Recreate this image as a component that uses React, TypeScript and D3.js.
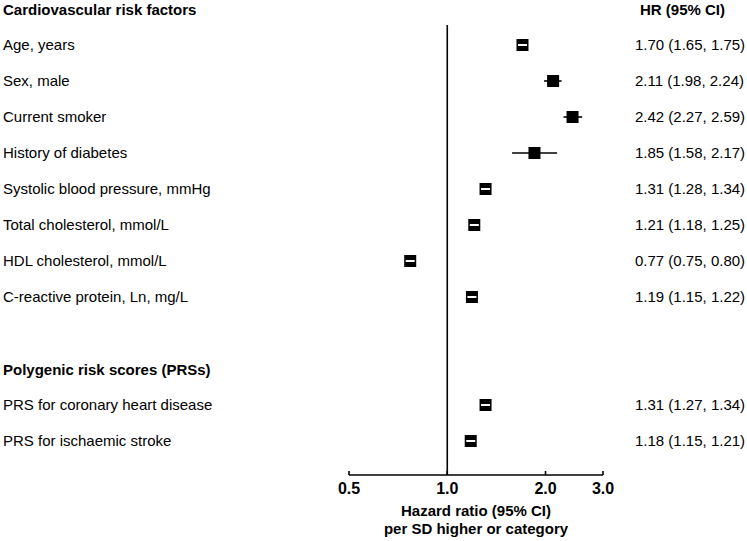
import React from "react";
import * as d3 from "d3";

// section headers
const sectionTitles = ["Cardiovascular risk factors", "Polygenic risk scores (PRSs)"];

// cardiovascular risk factors
const cvdFactors = [
  "Age, years",
  "Sex, male",
  "Current smoker",
  "History of diabetes",
  "Systolic blood pressure, mmHg",
  "Total cholesterol, mmol/L",
  "HDL cholesterol, mmol/L",
  "C-reactive protein, Ln, mg/L",
];
const cvdHR = [1.7, 2.11, 2.42, 1.85, 1.31, 1.21, 0.77, 1.19];
const cvdLo = [1.65, 1.98, 2.27, 1.58, 1.28, 1.18, 0.75, 1.15];
const cvdHi = [1.75, 2.24, 2.59, 2.17, 1.34, 1.25, 0.8, 1.22];

// polygenic risk scores
const prsFactors = ["PRS for coronary heart disease", "PRS for ischaemic stroke"];
const prsHR = [1.31, 1.18];
const prsLo = [1.27, 1.15];
const prsHi = [1.34, 1.21];

const xTicks = [0.5, 1, 2, 3];

const W = 747;
const H = 541;
const FONT = "Arial, 'Liberation Sans', Helvetica, sans-serif";

type Row =
  | { kind: "header"; text: string }
  | { kind: "blank" }
  | { kind: "item"; text: string; hr: number; lo: number; hi: number };

const fmt = d3.format(".2f");

const App: React.FC = () => {
  const rows: Row[] = [
    { kind: "header", text: sectionTitles[0] },
    ...cvdFactors.map((t, i) => ({ kind: "item" as const, text: t, hr: cvdHR[i], lo: cvdLo[i], hi: cvdHi[i] })),
    { kind: "blank" },
    { kind: "header", text: sectionTitles[1] },
    ...prsFactors.map((t, i) => ({ kind: "item" as const, text: t, hr: prsHR[i], lo: prsLo[i], hi: prsHi[i] })),
  ];

  const x = d3.scaleLog().domain([0.5, 3]).range([349, 603]);
  const y = d3
    .scalePoint<number>()
    .domain(d3.range(rows.length))
    .range([9, 441]);

  const axisY = 475;
  const box = 12;

  return (
    <svg
      width={W}
      height={H}
      style={{ position: "absolute", left: 0, top: 0, background: "#fff" }}
      fontFamily={FONT}
    >
      {/* reference line at HR = 1 */}
      <line x1={x(1)} x2={x(1)} y1={25} y2={axisY} stroke="#000" strokeWidth={1.6} />

      {/* column header */}
      <text x={640} y={15} fontSize={15} fontWeight="bold">
        HR (95% CI)
      </text>

      {rows.map((r, i) => {
        const cy = y(i) as number;
        if (r.kind === "blank") return null;
        if (r.kind === "header") {
          return (
            <text key={i} x={3} y={cy + 6} fontSize={15} fontWeight="bold">
              {r.text}
            </text>
          );
        }
        const cx = x(r.hr);
        const x0 = x(r.lo);
        const x1 = x(r.hi);
        const inside = x0 >= cx - box / 2 && x1 <= cx + box / 2;
        return (
          <g key={i}>
            <text x={3} y={cy + 5} fontSize={15}>
              {r.text}
            </text>
            <line x1={x0} x2={x1} y1={cy} y2={cy} stroke="#000" strokeWidth={1.6} />
            <rect x={cx - box / 2} y={cy - box / 2} width={box} height={box} fill="#000" />
            {inside && (
              <line
                x1={cx - box / 2 + 1.5}
                x2={cx + box / 2 - 1.5}
                y1={cy}
                y2={cy}
                stroke="#fff"
                strokeWidth={2}
              />
            )}
            <text x={635} y={cy + 5} fontSize={15}>
              {`${fmt(r.hr)} (${fmt(r.lo)}, ${fmt(r.hi)})`}
            </text>
          </g>
        );
      })}

      {/* x axis */}
      <line x1={x(0.5)} x2={x(3)} y1={axisY} y2={axisY} stroke="#000" strokeWidth={1.6} />
      {xTicks.map((t) => (
        <g key={t}>
          <line x1={x(t)} x2={x(t)} y1={axisY} y2={axisY - 4} stroke="#000" strokeWidth={1.6} />
          <text x={x(t)} y={494} fontSize={16} fontWeight="bold" textAnchor="middle">
            {d3.format(".1f")(t)}
          </text>
        </g>
      ))}
      <text x={476} y={516} fontSize={15} fontWeight="bold" textAnchor="middle">
        Hazard ratio (95% CI)
      </text>
      <text x={476} y={534} fontSize={15} fontWeight="bold" textAnchor="middle">
        per SD higher or category
      </text>
    </svg>
  );
};

export default App;
